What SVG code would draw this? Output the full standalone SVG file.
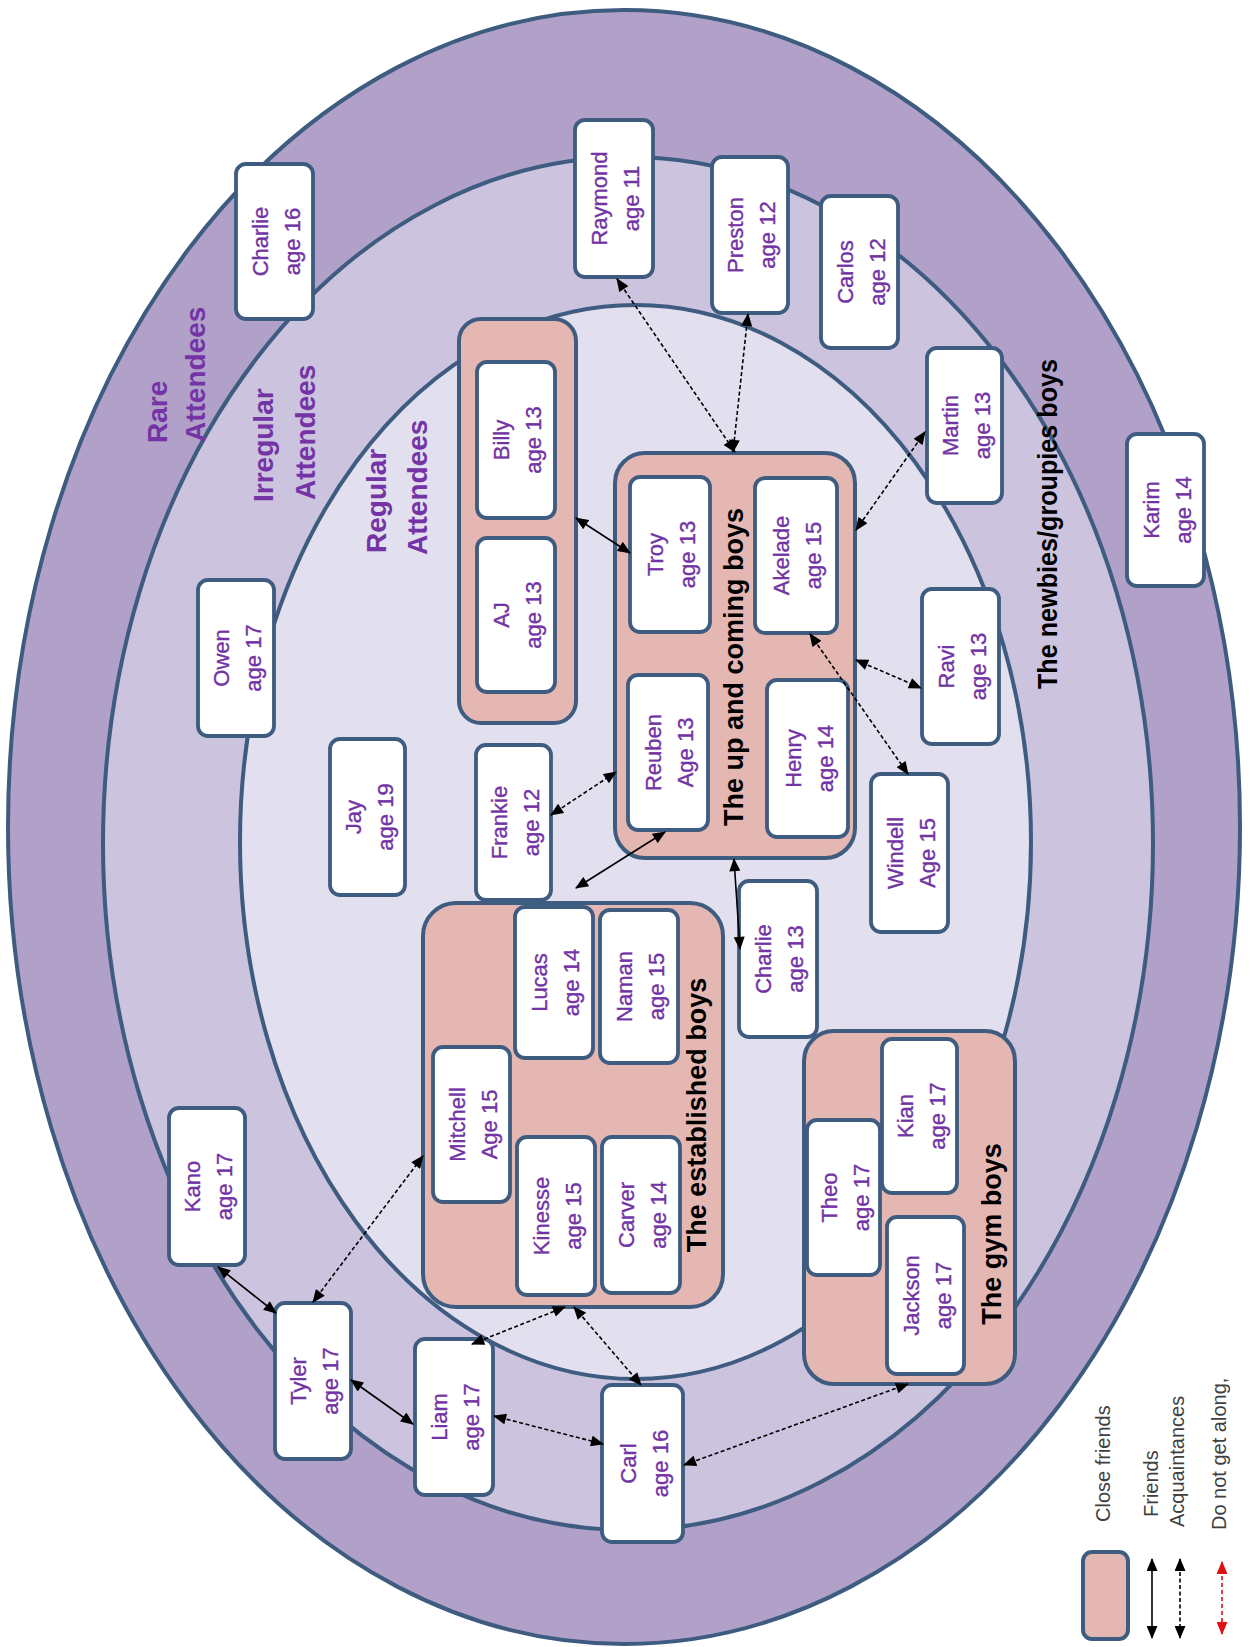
<svg xmlns="http://www.w3.org/2000/svg" width="1253" height="1647" viewBox="0 0 1253 1647">
<style>
.ring{stroke:#3e5b80;stroke-width:4}
.grp{fill:#e4b7b2;stroke:#3e5b80;stroke-width:4}
.box{fill:#ffffff;stroke:#3e5b80;stroke-width:3.8}
.nm{font-family:"Liberation Sans",Arial,sans-serif;font-size:22px;fill:#7233a4;stroke:#7233a4;stroke-width:0.35;text-anchor:middle}
.ttl{font-family:"Liberation Sans",Arial,sans-serif;font-size:27px;font-weight:bold;fill:#000;text-anchor:middle}
.lvl{font-family:"Liberation Sans",Arial,sans-serif;font-size:28px;font-weight:bold;fill:#7434a6}
.leg{font-family:"Liberation Sans",Arial,sans-serif;font-size:20px;fill:#404040}
.c{fill:none;stroke:#000;stroke-width:1.6;marker-start:url(#ah);marker-end:url(#ah)}
.d{stroke-dasharray:4 2.5}
.r{fill:none;stroke:#e01010;stroke-width:1.6;stroke-dasharray:4 3;marker-start:url(#ahr);marker-end:url(#ahr)}
</style>
<defs>
<marker id="ah" viewBox="0 0 12 10" refX="11" refY="5" markerWidth="14" markerHeight="11" markerUnits="userSpaceOnUse" orient="auto-start-reverse"><path d="M0,0 L12,5 L0,10 Z" fill="#000"/></marker>
<marker id="ahr" viewBox="0 0 12 10" refX="11" refY="5" markerWidth="14" markerHeight="11" markerUnits="userSpaceOnUse" orient="auto-start-reverse"><path d="M0,0 L12,5 L0,10 Z" fill="#e01010"/></marker>
</defs>
<rect width="1253" height="1647" fill="#ffffff"/>
<g id="rings">
<ellipse class="ring" cx="624" cy="827" rx="616" ry="817" fill="#b1a1c9"/>
<ellipse class="ring" cx="628" cy="843.5" rx="525" ry="686.5" fill="#ccc3de"/>
<ellipse class="ring" cx="635.5" cy="842" rx="395.5" ry="537" fill="#e2dfee"/>
</g>
<g id="labels">
<text class="lvl" transform="translate(167,443) rotate(-90)">Rare</text>
<text class="lvl" transform="translate(205,442) rotate(-90)">Attendees</text>
<text class="lvl" transform="translate(273,502) rotate(-90)">Irregular</text>
<text class="lvl" transform="translate(315,500) rotate(-90)">Attendees</text>
<text class="lvl" transform="translate(386,553) rotate(-90)">Regular</text>
<text class="lvl" transform="translate(427,555) rotate(-90)">Attendees</text>
<text class="ttl" transform="translate(1057,524) rotate(-90)" textLength="330" lengthAdjust="spacingAndGlyphs">The newbies/groupies boys</text>
</g>
<g id="group-billy-aj"><rect class="grp" x="459" y="319" width="117" height="404" rx="22"/></g>
<g id="group-upcoming"><rect class="grp" x="615" y="453" width="240" height="405" rx="30"/>
<text class="ttl" transform="translate(743,667) rotate(-90)">The up and coming boys</text></g>
<g id="group-established"><rect class="grp" x="423" y="903" width="300" height="404" rx="33"/>
<text class="ttl" transform="translate(706,1115) rotate(-90)">The established boys</text></g>
<g id="group-gym"><rect class="grp" x="804" y="1031" width="211" height="353" rx="30"/>
<text class="ttl" transform="translate(1001,1234) rotate(-90)">The gym boys</text></g>

<g id="charlie16"><rect class="box" x="236" y="164" width="77" height="155" rx="10"/><text class="nm" transform="translate(274.5,241.5) rotate(-90)"><tspan x="0" y="-7">Charlie</tspan><tspan x="0" y="25">age 16</tspan></text></g>
<g id="raymond"><rect class="box" x="575" y="120" width="78" height="157" rx="10"/><text class="nm" transform="translate(614,198.5) rotate(-90)"><tspan x="0" y="-7">Raymond</tspan><tspan x="0" y="25">age 11</tspan></text></g>
<g id="preston"><rect class="box" x="712" y="157" width="76" height="156" rx="10"/><text class="nm" transform="translate(750,235) rotate(-90)"><tspan x="0" y="-7">Preston</tspan><tspan x="0" y="25">age 12</tspan></text></g>
<g id="carlos"><rect class="box" x="821" y="196" width="77" height="152" rx="10"/><text class="nm" transform="translate(859.5,272) rotate(-90)"><tspan x="0" y="-7">Carlos</tspan><tspan x="0" y="25">age 12</tspan></text></g>
<g id="martin"><rect class="box" x="927" y="348" width="75" height="155" rx="10"/><text class="nm" transform="translate(964.5,425.5) rotate(-90)"><tspan x="0" y="-7">Martin</tspan><tspan x="0" y="25">age 13</tspan></text></g>
<g id="karim"><rect class="box" x="1127" y="434" width="77" height="152" rx="10"/><text class="nm" transform="translate(1165.5,510) rotate(-90)"><tspan x="0" y="-7">Karim</tspan><tspan x="0" y="25">age 14</tspan></text></g>
<g id="billy"><rect class="box" x="477" y="362" width="78" height="156" rx="10"/><text class="nm" transform="translate(516,440) rotate(-90)"><tspan x="0" y="-7">Billy</tspan><tspan x="0" y="25">age 13</tspan></text></g>
<g id="aj"><rect class="box" x="477" y="538" width="78" height="154" rx="10"/><text class="nm" transform="translate(516,615) rotate(-90)"><tspan x="0" y="-7">AJ</tspan><tspan x="0" y="25">age 13</tspan></text></g>
<g id="troy"><rect class="box" x="630" y="477" width="80" height="155" rx="10"/><text class="nm" transform="translate(670,554.5) rotate(-90)"><tspan x="0" y="-7">Troy</tspan><tspan x="0" y="25">age 13</tspan></text></g>
<g id="akelade"><rect class="box" x="755" y="478" width="82" height="155" rx="10"/><text class="nm" transform="translate(796,555.5) rotate(-90)"><tspan x="0" y="-7">Akelade</tspan><tspan x="0" y="25">age 15</tspan></text></g>
<g id="reuben"><rect class="box" x="628" y="675" width="80" height="155" rx="10"/><text class="nm" transform="translate(668,752.5) rotate(-90)"><tspan x="0" y="-7">Reuben</tspan><tspan x="0" y="25">Age 13</tspan></text></g>
<g id="henry"><rect class="box" x="767" y="680" width="81" height="157" rx="10"/><text class="nm" transform="translate(807.5,758.5) rotate(-90)"><tspan x="0" y="-7">Henry</tspan><tspan x="0" y="25">age 14</tspan></text></g>
<g id="owen"><rect class="box" x="198" y="580" width="76" height="156" rx="10"/><text class="nm" transform="translate(236,658) rotate(-90)"><tspan x="0" y="-7">Owen</tspan><tspan x="0" y="25">age 17</tspan></text></g>
<g id="jay"><rect class="box" x="330" y="739" width="75" height="156" rx="10"/><text class="nm" transform="translate(367.5,817) rotate(-90)"><tspan x="0" y="-7">Jay</tspan><tspan x="0" y="25">age 19</tspan></text></g>
<g id="frankie"><rect class="box" x="476" y="745" width="75" height="155" rx="10"/><text class="nm" transform="translate(513.5,822.5) rotate(-90)"><tspan x="0" y="-7">Frankie</tspan><tspan x="0" y="25">age 12</tspan></text></g>
<g id="ravi"><rect class="box" x="922" y="589" width="77" height="155" rx="10"/><text class="nm" transform="translate(960.5,666.5) rotate(-90)"><tspan x="0" y="-7">Ravi</tspan><tspan x="0" y="25">age 13</tspan></text></g>
<g id="windell"><rect class="box" x="871" y="774" width="77" height="158" rx="10"/><text class="nm" transform="translate(909.5,853) rotate(-90)"><tspan x="0" y="-7">Windell</tspan><tspan x="0" y="25">Age 15</tspan></text></g>
<g id="charlie13"><rect class="box" x="739" y="881" width="78" height="156" rx="10"/><text class="nm" transform="translate(778,959) rotate(-90)"><tspan x="0" y="-7">Charlie</tspan><tspan x="0" y="25">age 13</tspan></text></g>
<g id="lucas"><rect class="box" x="515" y="907" width="78" height="151" rx="10"/><text class="nm" transform="translate(554,982.5) rotate(-90)"><tspan x="0" y="-7">Lucas</tspan><tspan x="0" y="25">age 14</tspan></text></g>
<g id="naman"><rect class="box" x="600" y="910" width="78" height="153" rx="10"/><text class="nm" transform="translate(639,986.5) rotate(-90)"><tspan x="0" y="-7">Naman</tspan><tspan x="0" y="25">age 15</tspan></text></g>
<g id="mitchell"><rect class="box" x="433" y="1047" width="77" height="155" rx="10"/><text class="nm" transform="translate(471.5,1124.5) rotate(-90)"><tspan x="0" y="-7">Mitchell</tspan><tspan x="0" y="25">Age 15</tspan></text></g>
<g id="kinesse"><rect class="box" x="517" y="1137" width="78" height="158" rx="10"/><text class="nm" transform="translate(556,1216) rotate(-90)"><tspan x="0" y="-7">Kinesse</tspan><tspan x="0" y="25">age 15</tspan></text></g>
<g id="carver"><rect class="box" x="602" y="1137" width="78" height="156" rx="10"/><text class="nm" transform="translate(641,1215) rotate(-90)"><tspan x="0" y="-7">Carver</tspan><tspan x="0" y="25">age 14</tspan></text></g>
<g id="theo"><rect class="box" x="807" y="1120" width="73" height="155" rx="10"/><text class="nm" transform="translate(843.5,1197.5) rotate(-90)"><tspan x="0" y="-7">Theo</tspan><tspan x="0" y="25">age 17</tspan></text></g>
<g id="kian"><rect class="box" x="882" y="1039" width="75" height="154" rx="10"/><text class="nm" transform="translate(919.5,1116) rotate(-90)"><tspan x="0" y="-7">Kian</tspan><tspan x="0" y="25">age 17</tspan></text></g>
<g id="jackson"><rect class="box" x="887" y="1217" width="77" height="157" rx="10"/><text class="nm" transform="translate(925.5,1295.5) rotate(-90)"><tspan x="0" y="-7">Jackson</tspan><tspan x="0" y="25">age 17</tspan></text></g>
<g id="kano"><rect class="box" x="169" y="1108" width="76" height="157" rx="10"/><text class="nm" transform="translate(207,1186.5) rotate(-90)"><tspan x="0" y="-7">Kano</tspan><tspan x="0" y="25">age 17</tspan></text></g>
<g id="tyler"><rect class="box" x="275" y="1303" width="76" height="156" rx="10"/><text class="nm" transform="translate(313,1381) rotate(-90)"><tspan x="0" y="-7">Tyler</tspan><tspan x="0" y="25">age 17</tspan></text></g>
<g id="liam"><rect class="box" x="415" y="1339" width="78" height="156" rx="10"/><text class="nm" transform="translate(454,1417) rotate(-90)"><tspan x="0" y="-7">Liam</tspan><tspan x="0" y="25">age 17</tspan></text></g>
<g id="carl"><rect class="box" x="602" y="1385" width="81" height="157" rx="10"/><text class="nm" transform="translate(642.5,1463.5) rotate(-90)"><tspan x="0" y="-7">Carl</tspan><tspan x="0" y="25">age 16</tspan></text></g>

<g id="connectors">
<line class="c d" x1="617" y1="279" x2="735" y2="452"/>
<line class="c d" x1="748" y1="314" x2="733" y2="452"/>
<line class="c" x1="576" y1="518" x2="630" y2="553"/>
<line class="c d" x1="925" y1="432" x2="856" y2="530"/>
<line class="c d" x1="856" y1="660" x2="921" y2="688"/>
<line class="c d" x1="810" y1="634" x2="908" y2="774"/>
<line class="c d" x1="551" y1="815" x2="616" y2="772"/>
<line class="c" x1="576" y1="888" x2="665" y2="832"/>
<line class="c" x1="734" y1="859" x2="740" y2="949"/>
<line class="c" x1="218" y1="1267" x2="276" y2="1313"/>
<line class="c d" x1="313" y1="1302" x2="423" y2="1156"/>
<line class="c" x1="351" y1="1380" x2="413" y2="1424"/>
<line class="c d" x1="472" y1="1344" x2="565" y2="1307"/>
<line class="c d" x1="574" y1="1307" x2="641" y2="1385"/>
<line class="c d" x1="494" y1="1416" x2="603" y2="1444"/>
<line class="c d" x1="684" y1="1465" x2="908" y2="1384"/>
</g>

<g id="legend">
<rect class="grp" x="1083" y="1552" width="45" height="87" rx="9"/>
<line class="c" x1="1152" y1="1559" x2="1152" y2="1638"/>
<line class="c d" x1="1180" y1="1559" x2="1180" y2="1638"/>
<line class="r" x1="1222" y1="1562" x2="1222" y2="1634"/>
<text class="leg" transform="translate(1110,1522) rotate(-90)">Close friends</text>
<text class="leg" transform="translate(1158,1517) rotate(-90)">Friends</text>
<text class="leg" transform="translate(1184,1527) rotate(-90)">Acquaintances</text>
<text class="leg" transform="translate(1226,1530) rotate(-90)">Do not get along,</text>
</g>
</svg>
